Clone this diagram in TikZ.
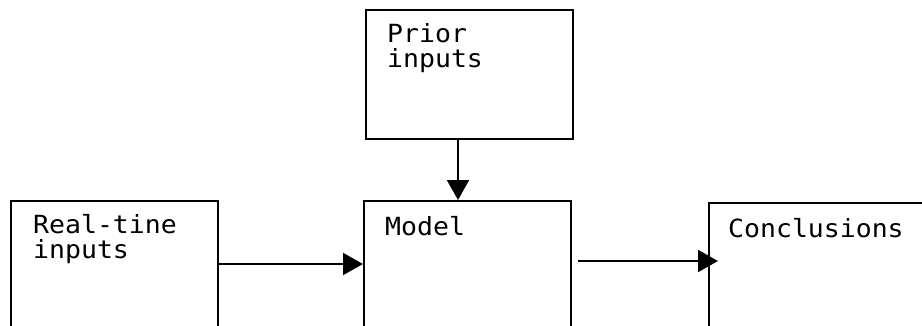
\documentclass[tikz,border=0pt]{standalone}
\usepackage{fontspec}
\newfontfamily\boxfont[FakeStretch=1.06]{DejaVu Sans Mono}
\usetikzlibrary{arrows.meta}
\begin{document}
\begin{tikzpicture}[x=1pt,y=-1pt,
  box/.style={draw, line width=2pt, rectangle, anchor=north west, inner sep=0pt},
  lbl/.style={anchor=base west, inner sep=0pt, align=left,
    font=\boxfont\fontsize{25}{25}\selectfont},
  flow/.style={line width=2pt, -{Triangle[length=20pt,width=22pt]}}]
  \useasboundingbox (0,0) rectangle (922,325);
  \clip (0,0) rectangle (922,325);
  % boxes (the lower three run past the bottom edge)
  \node[box, minimum width=207pt, minimum height=129pt] (prior) at (365,9) {};
  \node[box, minimum width=207pt, minimum height=150pt] (real) at (10,200) {};
  \node[box, minimum width=207pt, minimum height=150pt] (model) at (363,200) {};
  \node[box, minimum width=240pt, minimum height=150pt] (concl) at (708,202) {};
  % labels (base anchor sits on the last line)
  \node[lbl] (priorlbl) at (387,67) {Prior\\inputs};
  \node[lbl] (reallbl) at (33,258) {Real-tine\\inputs};
  \node[lbl] (modellbl) at (385,235) {Model};
  \node[lbl] (concllbl) at (728,237) {Conclusions};
  % connectors
  \draw[flow] (prior.south -| 458,0) -- (model.north -| 458,0);
  \draw[flow] (real.east |- 0,264) -- (model.west |- 0,264);
  \draw[flow, shorten <=6pt, shorten >=-10pt] (model.east |- 0,261) -- (concl.west |- 0,261);
\end{tikzpicture}
\end{document}
